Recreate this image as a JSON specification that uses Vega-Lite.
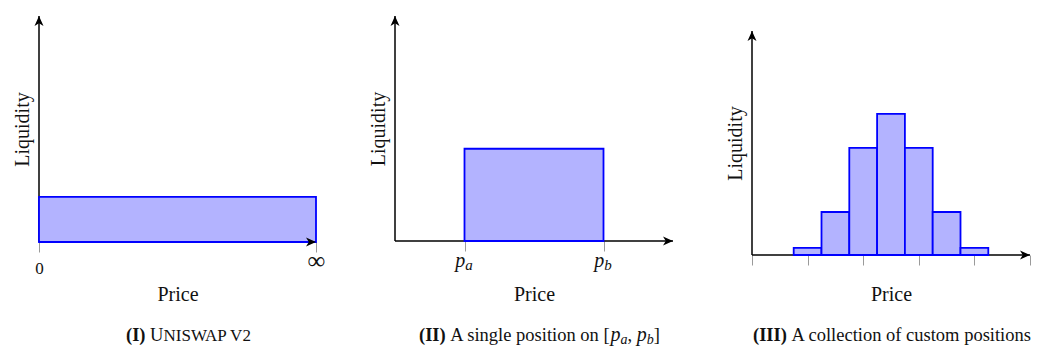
{
  "$schema": "https://vega.github.io/schema/vega-lite/v6.json",
  "background": "white",
  "padding": {"left": 12, "top": 15, "right": 5, "bottom": 5},
  "autosize": {"type": "pad"},
  "bounds": "flush",
  "spacing": 79,
  "datasets": {
    "one": [{}],
    "v2": [{"lo": 0, "hi": 1, "liquidity": 2}],
    "single": [{"lo": 1, "hi": 3, "liquidity": 4.1}],
    "custom": [
      {"lo": 0.75, "hi": 1.25, "liquidity": 0.32},
      {"lo": 1.25, "hi": 1.75, "liquidity": 1.92},
      {"lo": 1.75, "hi": 2.25, "liquidity": 4.78},
      {"lo": 2.25, "hi": 2.75, "liquidity": 6.3},
      {"lo": 2.75, "hi": 3.25, "liquidity": 4.78},
      {"lo": 3.25, "hi": 3.75, "liquidity": 1.92},
      {"lo": 3.75, "hi": 4.25, "liquidity": 0.32}
    ]
  },
  "hconcat": [
    {
      "width": 277,
      "height": 226,
      "layer": [
        {
          "data": {"name": "one"},
          "mark": {"type": "rule", "stroke": "#000", "strokeWidth": 1.5},
          "encoding": {
            "x": {"datum": 0, "type": "quantitative"},
            "y": {"datum": 0, "type": "quantitative"},
            "y2": {"datum": 10}
          }
        },
        {
          "data": {"name": "v2"},
          "mark": {"type": "rect", "fill": "#B3B3FF", "stroke": "#0000FF", "strokeWidth": 1.8},
          "encoding": {
            "x": {
              "field": "lo", "type": "quantitative", "title": "Price",
              "scale": {"domain": [0, 1], "nice": false, "zero": false},
              "axis": {
                "values": [0, 1],
                "labelExpr": "datum.value == 0 ? '0' : '∞'",
                "labelFlush": false, "labelOverlap": false, "labelPadding": 8, "titlePadding": 8,
                "labelFontSize": {"condition": {"test": "datum.value == 1", "value": 25}, "value": 17},
                "labelBaseline": {"condition": {"test": "datum.value == 1", "value": "middle"}, "value": "top"}
              }
            },
            "x2": {"field": "hi"},
            "y": {
              "field": "liquidity", "type": "quantitative", "title": "Liquidity",
              "scale": {"domain": [0, 10], "nice": false},
              "axis": {"ticks": false, "labels": false, "titlePadding": 7}
            },
            "y2": {"datum": 0}
          }
        },
        {
          "data": {"name": "one"},
          "mark": {"type": "point", "shape": "M0,0L-0.45,1L0,0.72L0.45,1Z", "filled": true, "fill": "#000", "size": 400, "opacity": 1, "strokeWidth": 0},
          "encoding": {"x": {"datum": 0, "type": "quantitative"}, "y": {"datum": 10, "type": "quantitative"}}
        },
        {
          "data": {"name": "one"},
          "mark": {"type": "point", "shape": "M0,0L-1,-0.45L-0.72,0L-1,0.45Z", "filled": true, "fill": "#000", "size": 400, "opacity": 1, "strokeWidth": 0},
          "encoding": {"x": {"datum": 1, "type": "quantitative"}, "y": {"datum": 0, "type": "quantitative"}}
        },
        {
          "data": {"name": "one"},
          "mark": {"type": "text", "text": "(I)", "fontWeight": "bold", "fontSize": 18.5, "align": "left", "baseline": "alphabetic"},
          "encoding": {"x": {"datum": 0.3141, "type": "quantitative"}, "y": {"datum": -4.381, "type": "quantitative"}}
        },
        {
          "data": {"name": "one"},
          "mark": {"type": "text", "text": "U", "fontSize": 18.5, "align": "left", "baseline": "alphabetic"},
          "encoding": {"x": {"datum": 0.4011, "type": "quantitative"}, "y": {"datum": -4.381, "type": "quantitative"}}
        },
        {
          "data": {"name": "one"},
          "mark": {"type": "text", "text": "NISWAP V2", "fontSize": 17, "align": "left", "baseline": "alphabetic"},
          "encoding": {"x": {"datum": 0.4495, "type": "quantitative"}, "y": {"datum": -4.381, "type": "quantitative"}}
        }
      ]
    },
    {
      "width": 278,
      "height": 225,
      "layer": [
        {
          "data": {"name": "one"},
          "mark": {"type": "rule", "stroke": "#000", "strokeWidth": 1.5},
          "encoding": {
            "x": {"datum": 0, "type": "quantitative"},
            "y": {"datum": 0, "type": "quantitative"},
            "y2": {"datum": 10}
          }
        },
        {
          "data": {"name": "one"},
          "mark": {"type": "rule", "stroke": "#000", "strokeWidth": 1.5},
          "encoding": {
            "x": {"datum": 0, "type": "quantitative"},
            "x2": {"datum": 4},
            "y": {"datum": 0, "type": "quantitative"}
          }
        },
        {
          "data": {"name": "single"},
          "mark": {"type": "rect", "fill": "#B3B3FF", "stroke": "#0000FF", "strokeWidth": 1.8},
          "encoding": {
            "x": {
              "field": "lo", "type": "quantitative", "title": "Price",
              "scale": {"domain": [0, 4], "nice": false, "zero": false},
              "axis": {"values": [1, 3], "labels": false, "titlePadding": 33}
            },
            "x2": {"field": "hi"},
            "y": {
              "field": "liquidity", "type": "quantitative", "title": "Liquidity",
              "scale": {"domain": [0, 10], "nice": false},
              "axis": {"ticks": false, "labels": false, "titlePadding": 7}
            },
            "y2": {"datum": 0}
          }
        },
        {
          "data": {"name": "one"},
          "mark": {"type": "point", "shape": "M0,0L-0.45,1L0,0.72L0.45,1Z", "filled": true, "fill": "#000", "size": 400, "opacity": 1, "strokeWidth": 0},
          "encoding": {"x": {"datum": 0, "type": "quantitative"}, "y": {"datum": 10, "type": "quantitative"}}
        },
        {
          "data": {"name": "one"},
          "mark": {"type": "point", "shape": "M0,0L-1,-0.45L-0.72,0L-1,0.45Z", "filled": true, "fill": "#000", "size": 400, "opacity": 1, "strokeWidth": 0},
          "encoding": {"x": {"datum": 4, "type": "quantitative"}, "y": {"datum": 0, "type": "quantitative"}}
        },
        {
          "data": {"name": "one"},
          "mark": {"type": "text", "text": "p", "fontStyle": "italic", "fontSize": 20, "align": "right", "baseline": "alphabetic"},
          "encoding": {"x": {"datum": 1.01, "type": "quantitative"}, "y": {"datum": -1.156, "type": "quantitative"}}
        },
        {
          "data": {"name": "one"},
          "mark": {"type": "text", "text": "a", "fontStyle": "italic", "fontSize": 15, "align": "left", "baseline": "alphabetic"},
          "encoding": {"x": {"datum": 1.01, "type": "quantitative"}, "y": {"datum": -1.289, "type": "quantitative"}}
        },
        {
          "data": {"name": "one"},
          "mark": {"type": "text", "text": "p", "fontStyle": "italic", "fontSize": 20, "align": "right", "baseline": "alphabetic"},
          "encoding": {"x": {"datum": 3.01, "type": "quantitative"}, "y": {"datum": -1.156, "type": "quantitative"}}
        },
        {
          "data": {"name": "one"},
          "mark": {"type": "text", "text": "b", "fontStyle": "italic", "fontSize": 15, "align": "left", "baseline": "alphabetic"},
          "encoding": {"x": {"datum": 3.01, "type": "quantitative"}, "y": {"datum": -1.289, "type": "quantitative"}}
        },
        {
          "data": {"name": "one"},
          "mark": {"type": "text", "text": "(II)", "fontWeight": "bold", "fontSize": 18.5, "align": "left", "baseline": "alphabetic"},
          "encoding": {"x": {"datum": 0.3453, "type": "quantitative"}, "y": {"datum": -4.444, "type": "quantitative"}}
        },
        {
          "data": {"name": "one"},
          "mark": {"type": "text", "text": "A single position on [", "fontSize": 18.5, "align": "left", "baseline": "alphabetic"},
          "encoding": {"x": {"datum": 0.7957, "type": "quantitative"}, "y": {"datum": -4.444, "type": "quantitative"}}
        },
        {
          "data": {"name": "one"},
          "mark": {"type": "text", "text": "p", "fontStyle": "italic", "fontSize": 20, "align": "left", "baseline": "alphabetic"},
          "encoding": {"x": {"datum": 3.1021, "type": "quantitative"}, "y": {"datum": -4.444, "type": "quantitative"}}
        },
        {
          "data": {"name": "one"},
          "mark": {"type": "text", "text": "a", "fontStyle": "italic", "fontSize": 14, "align": "left", "baseline": "alphabetic"},
          "encoding": {"x": {"datum": 3.246, "type": "quantitative"}, "y": {"datum": -4.578, "type": "quantitative"}}
        },
        {
          "data": {"name": "one"},
          "mark": {"type": "text", "text": ",", "fontSize": 18.5, "align": "left", "baseline": "alphabetic"},
          "encoding": {"x": {"datum": 3.3467, "type": "quantitative"}, "y": {"datum": -4.444, "type": "quantitative"}}
        },
        {
          "data": {"name": "one"},
          "mark": {"type": "text", "text": "p", "fontStyle": "italic", "fontSize": 20, "align": "left", "baseline": "alphabetic"},
          "encoding": {"x": {"datum": 3.4798, "type": "quantitative"}, "y": {"datum": -4.444, "type": "quantitative"}}
        },
        {
          "data": {"name": "one"},
          "mark": {"type": "text", "text": "b", "fontStyle": "italic", "fontSize": 14, "align": "left", "baseline": "alphabetic"},
          "encoding": {"x": {"datum": 3.6237, "type": "quantitative"}, "y": {"datum": -4.578, "type": "quantitative"}}
        },
        {
          "data": {"name": "one"},
          "mark": {"type": "text", "text": "]", "fontSize": 18.5, "align": "left", "baseline": "alphabetic"},
          "encoding": {"x": {"datum": 3.7244, "type": "quantitative"}, "y": {"datum": -4.444, "type": "quantitative"}}
        }
      ]
    },
    {
      "width": 278,
      "height": 239,
      "layer": [
        {
          "data": {"name": "one"},
          "mark": {"type": "rule", "stroke": "#000", "strokeWidth": 1.5},
          "encoding": {
            "x": {"datum": 0, "type": "quantitative"},
            "y": {"datum": 0, "type": "quantitative"},
            "y2": {"datum": 10}
          }
        },
        {
          "data": {"name": "one"},
          "mark": {"type": "rule", "stroke": "#000", "strokeWidth": 1.5},
          "encoding": {
            "x": {"datum": 0, "type": "quantitative"},
            "x2": {"datum": 5},
            "y": {"datum": 0, "type": "quantitative"}
          }
        },
        {
          "data": {"name": "custom"},
          "mark": {"type": "rect", "fill": "#B3B3FF", "stroke": "#0000FF", "strokeWidth": 1.8},
          "encoding": {
            "x": {
              "field": "lo", "type": "quantitative", "title": "Price",
              "scale": {"domain": [0, 5], "nice": false, "zero": false},
              "axis": {"values": [0, 1, 2, 3, 4, 5], "labels": false, "titlePadding": 19}
            },
            "x2": {"field": "hi"},
            "y": {
              "field": "liquidity", "type": "quantitative", "title": "Liquidity",
              "scale": {"domain": [0, 10.67], "nice": false},
              "axis": {"ticks": false, "labels": false, "titlePadding": 7, "titleY": 127}
            },
            "y2": {"datum": 0}
          }
        },
        {
          "data": {"name": "one"},
          "mark": {"type": "point", "shape": "M0,0L-0.45,1L0,0.72L0.45,1Z", "filled": true, "fill": "#000", "size": 400, "opacity": 1, "strokeWidth": 0},
          "encoding": {"x": {"datum": 0, "type": "quantitative"}, "y": {"datum": 10, "type": "quantitative"}}
        },
        {
          "data": {"name": "one"},
          "mark": {"type": "point", "shape": "M0,0L-1,-0.45L-0.72,0L-1,0.45Z", "filled": true, "fill": "#000", "size": 400, "opacity": 1, "strokeWidth": 0},
          "encoding": {"x": {"datum": 5, "type": "quantitative"}, "y": {"datum": 0, "type": "quantitative"}}
        },
        {
          "data": {"name": "one"},
          "mark": {"type": "text", "text": "(III)", "fontWeight": "bold", "fontSize": 18.5, "align": "left", "baseline": "alphabetic"},
          "encoding": {"x": {"datum": 0.018, "type": "quantitative"}, "y": {"datum": -3.839, "type": "quantitative"}}
        },
        {
          "data": {"name": "one"},
          "mark": {"type": "text", "text": "A collection of custom positions", "fontSize": 18.5, "align": "left", "baseline": "alphabetic"},
          "encoding": {"x": {"datum": 0.7105, "type": "quantitative"}, "y": {"datum": -3.839, "type": "quantitative"}}
        }
      ]
    }
  ],
  "config": {
    "font": "Liberation Serif",
    "view": {"stroke": null},
    "text": {"color": "#111"},
    "axis": {
      "grid": false,
      "domain": false,
      "titleFontWeight": "normal",
      "titleFontSize": 20,
      "titleColor": "#111",
      "labelColor": "#111",
      "labelFontSize": 16,
      "tickColor": "#9a9a9a",
      "tickWidth": 1,
      "tickSize": 10
    }
  }
}
